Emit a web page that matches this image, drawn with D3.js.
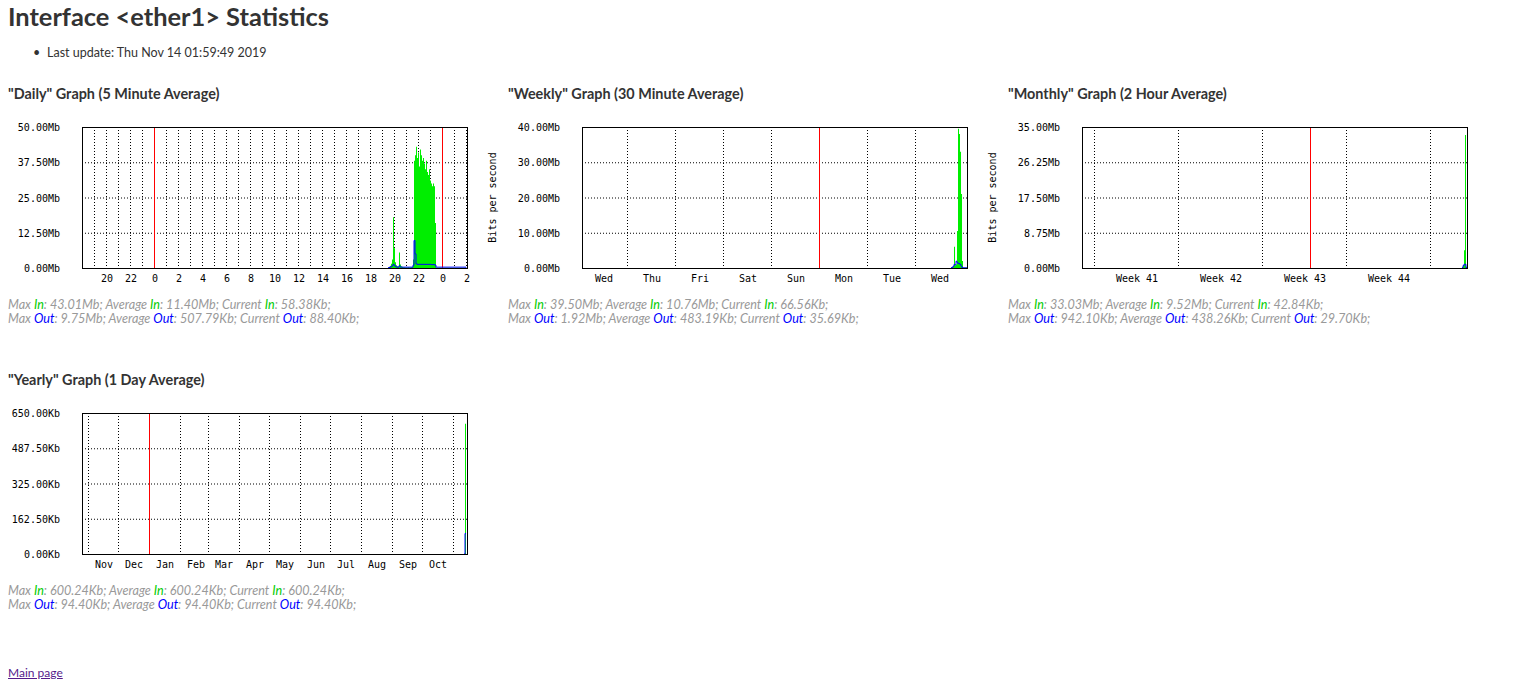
<!DOCTYPE html>
<meta charset="utf-8">
<script src="https://cdn.jsdelivr.net/npm/d3@7"></script>
<style>
body { margin:0; font-family: Lato, "DejaVu Sans", sans-serif; color:#333; background:#fff; }
.abs { position:absolute; white-space:nowrap; }
h1 { position:absolute; left:8px; top:1px; margin:0; font-size:25.4px; font-weight:bold; }
.upd { left:47px; top:45px; font-size:12.5px; }
.upd:before { content:"•"; position:absolute; left:-14px; }
.gt { font-size:14.4px; font-weight:bold; }
.st { font-size:12.6px; font-style:italic; color:#999; line-height:14px; }
.in { color:#00cc00; } .out { color:#0000ff; }
a { color:#551a8b; font-size:12px; }
svg text { font-family:"DejaVu Sans Mono", monospace; font-size:10px; fill:#000; }
</style>
<body>
<h1>Interface &lt;ether1&gt; Statistics</h1>
<div class="abs upd">Last update: Thu Nov 14 01:59:49 2019</div>
<svg id="page" width="1514" height="681" style="position:absolute;left:0;top:0"></svg>
<a class="abs" style="left:8px;top:665px" href="#">Main page</a>
<script>
// daily: 5 min samples from 2019-11-13 19:30 to 2019-11-14 02:00 (Mb)
var dailyIn = [0,0.4,0.8,1.5,3,18,7,2,1,0.6,0.5,5.5,1.2,0.6,0.4,0.3,
  0.3,0.2,0.2,0.2,0.3,0.2,0.2,0.3,0.4,
  3,38,40,43,39,41,36,42,40,38,39,37,35,38,34,33,35,31,30,29,30,29,16,
  0.1,0.1,0.1,0.1,0.1,0.1,0.1,0.1,0.1,0.1,0.1,0.1,0.1,0.1,0.1,0.1,
  0.1,0.1,0.1,0.1,0.1,0.1,0.1,0.1,0.1,0.1,0.1,0.1,0.1,0.1,0.06];
var dailyOut = [0.1,0.2,0.3,0.5,0.8,1.3,1.0,0.6,0.4,0.3,0.3,0.8,0.4,0.3,0.3,0.3,
  0.3,0.3,0.3,0.3,0.3,0.3,0.3,0.3,0.3,
  1,9.75,5,1.5,1.3,1.3,1.3,1.3,1.3,1.3,1.3,1.3,1.3,1.3,1.3,1.3,1.3,1.3,1.2,1.2,1.2,1.2,1.0,
  0.3,0.3,0.3,0.3,0.3,0.3,0.3,0.3,0.3,0.3,0.3,0.3,0.3,0.3,0.3,0.3,
  0.3,0.3,0.3,0.3,0.3,0.3,0.3,0.3,0.3,0.3,0.3,0.3,0.3,0.3,0.09];
// weekly: 30 min samples from 2019-11-13 18:00
var weeklyIn = [0,0.3,0.5,6,0.8,1,10.5,39.5,38,33,21,2,0.1,0.1,0.1,0.1,0.07];
var weeklyOut = [0.1,0.2,0.5,1,0.9,1.92,1.5,1.3,1.2,1,0.5,0.1,0.05,0.05,0.05,0.04,0.04];
// monthly: 2 hour samples from 2019-11-13 16:00
var monthlyIn = [0,0.5,4.4,33,0.3,0.04];
var monthlyOut = [0.1,0.6,0.94,0.9,0.1,0.03];
// yearly: 1 day samples from 2019-11-12 (Kb)
var yearlyIn = [0,600.24,600.24];
var yearlyOut = [0,94.4,94.4];

var hourLabels = ["20","22","0","2","4","6","8","10","12","14","16","18","20","22","0","2"];
var dayLabels = ["Wed","Thu","Fri","Sat","Sun","Mon","Tue","Wed"];
var weekLabels = ["Week 41","Week 42","Week 43","Week 44"];
var monthLabels = ["Nov","Dec","Jan","Feb","Mar","Apr","May","Jun","Jul","Aug","Sep","Oct"];

var D = (s) => new Date(s);
var svg = d3.select("#page");

function chart(o) {
  var W = 385, H = 141;
  var g = svg.append("g").attr("transform", "translate(" + o.x + "," + o.y + ")");
  var x = d3.scaleTime().domain(o.domain).range([0, W]);
  var y = d3.scaleLinear().domain([0, o.max]).range([H, 0]);
  var step = o.step;
  var pts = (arr) => arr.map((v, i) => ({ t: new Date(o.start.getTime() + i * step), v: v }));
  // grid
  var yt = d3.range(0, 5).map(i => o.max * i / 4);
  g.selectAll(".hg").data(yt.slice(1)).join("line")
    .attr("x1", 0).attr("x2", W).attr("y1", d => y(d) + 0.5).attr("y2", d => y(d) + 0.5)
    .attr("stroke", "#000").attr("stroke-dasharray", "1,2");
  g.selectAll(".vg").data(o.grid).join("line")
    .attr("x1", d => Math.round(x(d)) + 0.5).attr("x2", d => Math.round(x(d)) + 0.5).attr("y1", 0).attr("y2", H)
    .attr("stroke", "#000").attr("stroke-dasharray", "1,2");
  g.selectAll(".rg").data(o.red).join("line")
    .attr("x1", d => Math.round(x(d)) + 0.5).attr("x2", d => Math.round(x(d)) + 0.5).attr("y1", 0).attr("y2", H)
    .attr("stroke", "#ff0000");
  // data
  g.append("path").datum(pts(o.inData))
    .attr("d", d3.area().x(d => x(d.t)).y0(H).y1(d => y(d.v)).curve(d3.curveStepAfter))
    .attr("fill", "#00ee00");
  g.append("path").datum(pts(o.outData))
    .attr("d", d3.line().x(d => x(d.t)).y(d => y(d.v)).curve(d3.curveStepAfter))
    .attr("fill", "none").attr("stroke", "#0000ff").attr("stroke-width", 1);
  // frame
  g.append("rect").attr("x", 0.5).attr("y", 0.5).attr("width", W).attr("height", H)
    .attr("fill", "none").attr("stroke", "#000");
  // y labels
  g.selectAll(".yl").data(yt).join("text")
    .attr("x", -22).attr("y", d => y(d) + 4).attr("text-anchor", "end")
    .text(d => d.toFixed(2) + o.unit);
  // x labels
  g.selectAll(".xl").data(o.labelAt).join("text")
    .attr("x", d => x(d) + 1).attr("y", H + 14).attr("text-anchor", "middle")
    .text((d, i) => o.labels[i]);
  if (o.ylabel) g.append("text").attr("transform", "translate(-86," + (H / 2) + ") rotate(-90)")
    .attr("text-anchor", "middle").text("Bits per second");
}

var HOUR = 3600e3, DAY = 24 * HOUR;
function range(a, b, s) { var r = []; for (var t = a.getTime(); t <= b.getTime(); t += s) r.push(new Date(t)); return r; }

chart({ x: 82, y: 127, unit: "Mb", max: 50, step: 5 * 60e3,
  domain: [D("2019-11-12T18:00"), D("2019-11-14T02:05")], start: D("2019-11-13T19:30"),
  inData: dailyIn, outData: dailyOut,
  grid: range(D("2019-11-12T19:00"), D("2019-11-14T02:00"), HOUR),
  red: [D("2019-11-13T00:00"), D("2019-11-14T00:00")],
  labelAt: range(D("2019-11-12T20:00"), D("2019-11-14T02:00"), 2 * HOUR), labels: hourLabels });

chart({ x: 582, y: 127, unit: "Mb", max: 40, step: 30 * 60e3, ylabel: true,
  domain: [D("2019-11-06T01:30"), D("2019-11-14T02:00")], start: D("2019-11-13T18:00"),
  inData: weeklyIn, outData: weeklyOut,
  grid: range(D("2019-11-07T00:00"), D("2019-11-13T00:00"), DAY),
  red: [D("2019-11-11T00:00")],
  labelAt: range(D("2019-11-06T12:00"), D("2019-11-13T12:00"), DAY), labels: dayLabels });

chart({ x: 1082, y: 127, unit: "Mb", max: 35, step: 2 * HOUR, ylabel: true,
  domain: [D("2019-10-13T00:00"), D("2019-11-14T02:00")], start: D("2019-11-13T16:00"),
  inData: monthlyIn, outData: monthlyOut,
  grid: range(D("2019-10-14T00:00"), D("2019-11-11T00:00"), 7 * DAY),
  red: [D("2019-11-01T00:00")],
  labelAt: range(D("2019-10-17T12:00"), D("2019-11-07T12:00"), 7 * DAY), labels: weekLabels });

var months = d3.timeMonth.range(D("2018-11-01T00:00"), D("2019-11-02T00:00"));
chart({ x: 82, y: 413, unit: "Kb", max: 650, step: DAY,
  domain: [D("2018-10-26T00:00"), D("2019-11-15T00:00")], start: D("2019-11-12T00:00"),
  inData: yearlyIn, outData: yearlyOut,
  grid: months, red: [D("2019-01-01T00:00")],
  labelAt: months.slice(0, 12).map(m => new Date(m.getTime() + 15 * DAY)), labels: monthLabels });

var blocks = [
  { x: 8, y: 85, t: '"Daily" Graph (5 Minute Average)', s: ["43.01Mb","11.40Mb","58.38Kb","9.75Mb","507.79Kb","88.40Kb"] },
  { x: 508, y: 85, t: '"Weekly" Graph (30 Minute Average)', s: ["39.50Mb","10.76Mb","66.56Kb","1.92Mb","483.19Kb","35.69Kb"] },
  { x: 1008, y: 85, t: '"Monthly" Graph (2 Hour Average)', s: ["33.03Mb","9.52Mb","42.84Kb","942.10Kb","438.26Kb","29.70Kb"] },
  { x: 8, y: 371, t: '"Yearly" Graph (1 Day Average)', s: ["600.24Kb","600.24Kb","600.24Kb","94.40Kb","94.40Kb","94.40Kb"] }
];
blocks.forEach(b => {
  d3.select("body").append("div").attr("class", "abs gt").style("left", b.x + "px").style("top", b.y + "px").text(b.t);
  d3.select("body").append("div").attr("class", "abs st").style("left", b.x + "px").style("top", (b.y + 213) + "px")
    .html('Max <span class="in">In</span>: ' + b.s[0] + '; Average <span class="in">In</span>: ' + b.s[1] + '; Current <span class="in">In</span>: ' + b.s[2] + ';<br>' +
          'Max <span class="out">Out</span>: ' + b.s[3] + '; Average <span class="out">Out</span>: ' + b.s[4] + '; Current <span class="out">Out</span>: ' + b.s[5] + ';');
});
</script>
</body>
